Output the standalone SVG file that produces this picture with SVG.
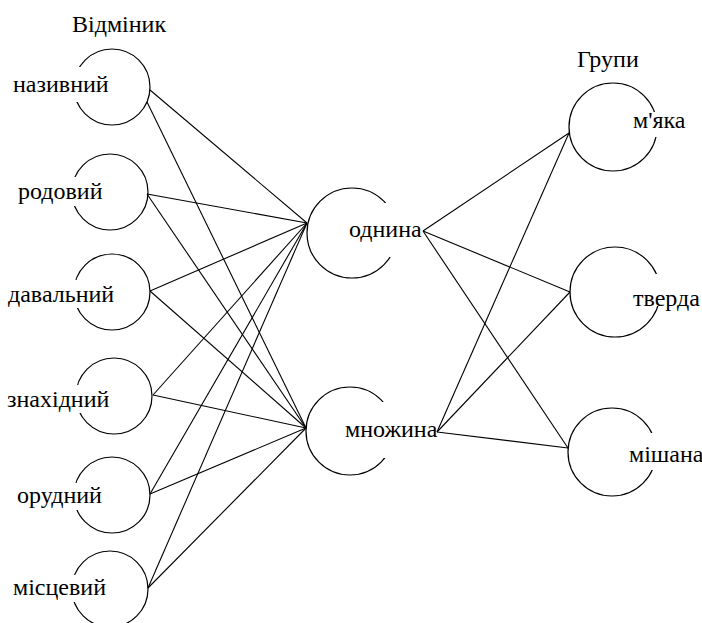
<svg xmlns="http://www.w3.org/2000/svg" width="702" height="623" viewBox="0 0 702 623">
<style>
.c{fill:none;stroke:#000;stroke-width:1.2}
.m{fill:#fff;stroke:none}
.t{font-family:"Liberation Serif","Times New Roman",serif;font-size:24px;fill:#000}
#edges line{stroke:#000;stroke-width:1.1}
</style>
<rect width="702" height="623" fill="#fff"/>
<text class="t" x="72" y="32">Відміник</text>
<text class="t" x="577" y="67">Групи</text>
<g id="n-nazyvnyi"><circle class="c" cx="112" cy="87" r="38"/><rect class="m" x="10" y="67" width="99" height="35"/><text class="t" x="13" y="92">називний</text></g>
<g id="n-rodovyi"><circle class="c" cx="110" cy="192" r="38"/><rect class="m" x="15" y="177" width="91" height="29"/><text class="t" x="18" y="199">родовий</text></g>
<g id="n-davalnyi"><circle class="c" cx="112" cy="292" r="38"/><rect class="m" x="6" y="280" width="108" height="28"/><text class="t" x="8" y="302">давальний</text></g>
<g id="n-znakhidnyi"><circle class="c" cx="114" cy="396" r="38"/><rect class="m" x="5" y="385" width="104" height="28"/><text class="t" x="7" y="407">знахідний</text></g>
<g id="n-orudnyi"><circle class="c" cx="112" cy="495" r="38"/><rect class="m" x="15" y="483" width="91" height="27"/><text class="t" x="17" y="503">орудний</text></g>
<g id="n-mistsevyi"><circle class="c" cx="110" cy="589" r="38"/><rect class="m" x="11" y="575" width="94" height="27"/><text class="t" x="13" y="595">місцевий</text></g>
<g id="n-odnyna"><circle class="c" cx="352" cy="233" r="45"/><rect class="m" x="347" y="203" width="76" height="54"/><text class="t" x="349" y="237">однина</text></g>
<g id="n-mnozhyna"><circle class="c" cx="350" cy="431" r="44"/><rect class="m" x="343" y="402" width="94" height="56"/><text class="t" x="345" y="437">множина</text></g>
<g id="n-miaka"><circle class="c" cx="613" cy="127" r="44"/><rect class="m" x="631" y="112" width="60" height="25"/><text class="t" x="633" y="128">м'яка</text></g>
<g id="n-tverda"><circle class="c" cx="615" cy="292" r="45"/><rect class="m" x="631" y="274" width="71" height="32"/><text class="t" x="633" y="306">тверда</text></g>
<g id="n-mishana"><circle class="c" cx="612" cy="452" r="44"/><rect class="m" x="627" y="433" width="75" height="37"/><text class="t" x="629" y="462">мішана</text></g>
<g id="edges">
<line x1="150" y1="90" x2="307" y2="223"/>
<line x1="147" y1="102" x2="306" y2="428"/>
<line x1="147" y1="194" x2="307" y2="223"/>
<line x1="147" y1="194" x2="306" y2="428"/>
<line x1="150" y1="291" x2="307" y2="223"/>
<line x1="150" y1="291" x2="306" y2="428"/>
<line x1="153" y1="395" x2="307" y2="223"/>
<line x1="153" y1="395" x2="306" y2="428"/>
<line x1="150" y1="494" x2="307" y2="223"/>
<line x1="150" y1="494" x2="306" y2="428"/>
<line x1="148" y1="588" x2="307" y2="223"/>
<line x1="148" y1="588" x2="306" y2="428"/>
<line x1="423" y1="231" x2="569" y2="133"/>
<line x1="423" y1="231" x2="570" y2="292"/>
<line x1="423" y1="231" x2="568" y2="448"/>
<line x1="437" y1="432" x2="569" y2="133"/>
<line x1="437" y1="432" x2="570" y2="292"/>
<line x1="437" y1="432" x2="568" y2="448"/>
</g>
</svg>
